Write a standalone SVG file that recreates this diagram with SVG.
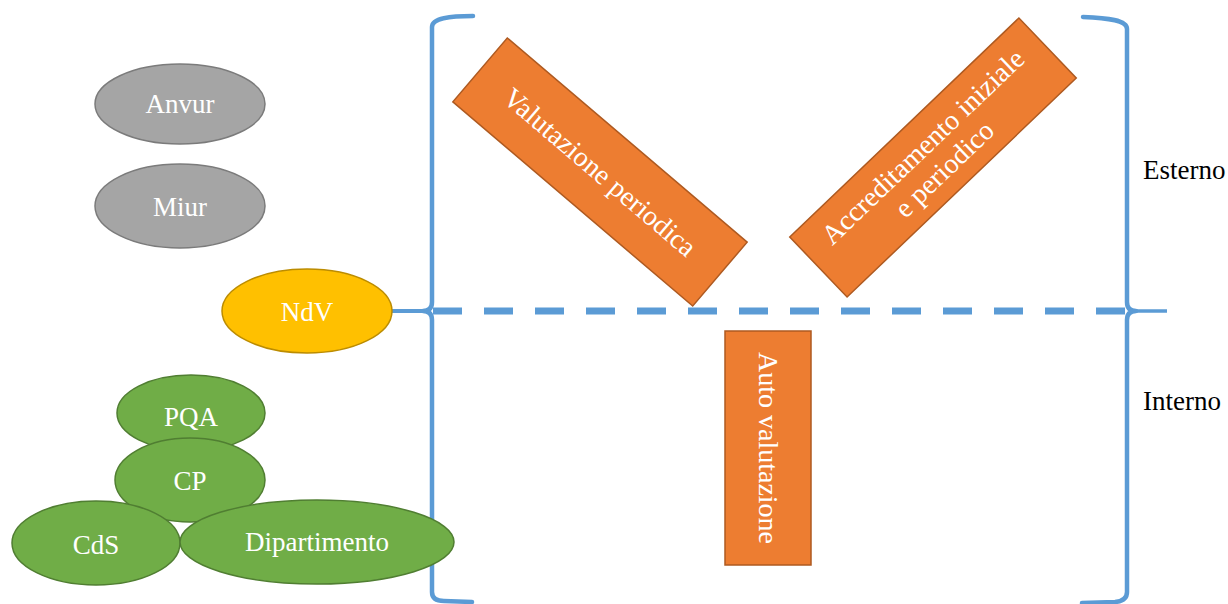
<svg xmlns="http://www.w3.org/2000/svg" width="1228" height="604" viewBox="0 0 1228 604">
<style>
.lbl{font-family:"Liberation Serif","Times New Roman",serif;fill:#fff;text-anchor:middle;dominant-baseline:central}
.side{font-family:"Liberation Serif","Times New Roman",serif;fill:#000;font-size:27px}
.gray{fill:#A5A5A5;stroke:#7B7B7B;stroke-width:1.5}
.gold{fill:#FFC000;stroke:#BC8C00;stroke-width:1.5}
.green{fill:#70AD47;stroke:#507E32;stroke-width:1.5}
.orange{fill:#ED7D31;stroke:#AE5A21;stroke-width:1.5}
.brace{fill:none;stroke:#5B9BD5;stroke-width:4.5;stroke-linecap:round;stroke-linejoin:round}
</style>
<rect width="1228" height="604" fill="#fff"/>
<g id="connectors">
  <path class="brace" d="M473,16 C450,16 432,18 432,27 L432,302 Q432,311 423,311 Q432,311 432,320 L432,592 Q432,601 444,601 L472,602"/>
  <path class="brace" d="M1083,17 C1108,18 1127,20 1127,29 L1127,302 Q1127,311 1136,311 Q1127,311 1127,320 L1127,592 Q1127,601 1115,602 L1082,603"/>
  <line x1="390" y1="311" x2="423" y2="311" stroke="#5B9BD5" stroke-width="4"/>
  <line x1="1136" y1="311" x2="1167" y2="311" stroke="#5B9BD5" stroke-width="3.5"/>
  <line x1="433" y1="311" x2="1127" y2="311" stroke="#5B9BD5" stroke-width="7" stroke-dasharray="29 22"/>
</g>
<g id="anvur"><ellipse class="gray" cx="180" cy="104" rx="85" ry="40"/><text class="lbl" x="180" y="104" font-size="27">Anvur</text></g>
<g id="miur"><ellipse class="gray" cx="180" cy="206" rx="85" ry="42"/><text class="lbl" x="180" y="207" font-size="27">Miur</text></g>
<g id="ndv"><ellipse class="gold" cx="307" cy="311" rx="85" ry="42"/><text class="lbl" x="307" y="312" font-size="27">NdV</text></g>
<g id="pqa"><ellipse class="green" cx="191" cy="413" rx="74" ry="38"/><text class="lbl" x="191" y="417" font-size="27">PQA</text></g>
<g id="cp"><ellipse class="green" cx="190" cy="480" rx="75" ry="42"/><text class="lbl" x="190" y="481" font-size="27">CP</text></g>
<g id="cds"><ellipse class="green" cx="96" cy="543" rx="84" ry="42"/><text class="lbl" x="96" y="545" font-size="27">CdS</text></g>
<g id="dipartimento"><ellipse class="green" cx="317" cy="542" rx="137" ry="42"/><text class="lbl" x="317" y="542" font-size="27">Dipartimento</text></g>
<g id="valutazione-periodica" transform="translate(600,172) rotate(40.4)">
  <rect class="orange" x="-157.5" y="-42" width="315" height="84"/>
  <text class="lbl" x="0" y="0" font-size="28">Valutazione periodica</text>
</g>
<g id="accreditamento" transform="translate(933,157.5) rotate(-43.7)">
  <rect class="orange" x="-158.5" y="-41.5" width="317" height="83"/>
  <text class="lbl" x="0" y="-15" font-size="28">Accreditamento iniziale</text>
  <text class="lbl" x="0" y="16" font-size="28">e periodico</text>
</g>
<g id="auto-valutazione">
  <rect class="orange" x="725" y="331" width="86" height="234"/>
  <text class="lbl" transform="translate(768,448) rotate(90)" x="0" y="0" font-size="28">Auto valutazione</text>
</g>
<g id="esterno"><text class="side" x="1143" y="179">Esterno</text></g>
<g id="interno"><text class="side" x="1143" y="410">Interno</text></g>
</svg>
